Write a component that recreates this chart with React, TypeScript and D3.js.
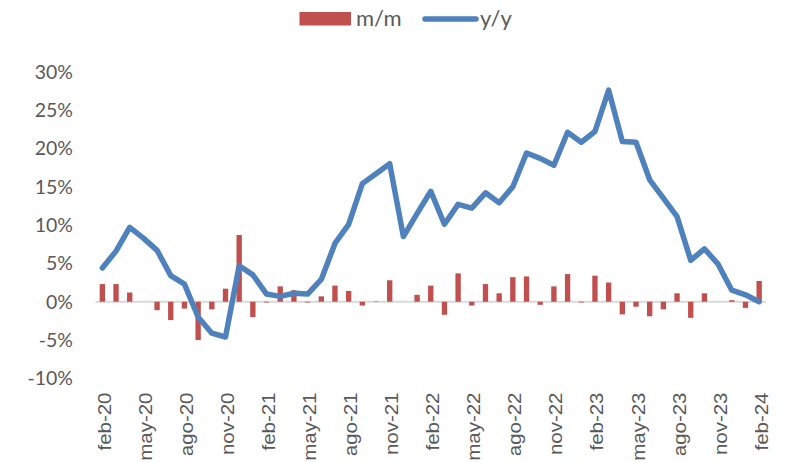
import React from 'react';
import * as d3 from 'd3';

const months = [
  'feb-20', 'mar-20', 'abr-20', 'may-20', 'jun-20', 'jul-20', 'ago-20', 'sep-20', 'oct-20', 'nov-20', 'dic-20', 'ene-21',
  'feb-21', 'mar-21', 'abr-21', 'may-21', 'jun-21', 'jul-21', 'ago-21', 'sep-21', 'oct-21', 'nov-21', 'dic-21', 'ene-22',
  'feb-22', 'mar-22', 'abr-22', 'may-22', 'jun-22', 'jul-22', 'ago-22', 'sep-22', 'oct-22', 'nov-22', 'dic-22', 'ene-23',
  'feb-23', 'mar-23', 'abr-23', 'may-23', 'jun-23', 'jul-23', 'ago-23', 'sep-23', 'oct-23', 'nov-23', 'dic-23', 'ene-24',
  'feb-24',
];

// m/m change, %
const mm = [
  2.3, 2.3, 1.2, 0.0, -1.1, -2.4, -0.9, -5.0, -1.0, 1.7, 8.7, -2.0,
  -0.1, 2.0, 1.5, -0.1, 0.7, 2.1, 1.4, -0.5, 0.05, 2.8, 0.0, 0.9,
  2.1, -1.7, 3.7, -0.5, 2.3, 1.1, 3.2, 3.3, -0.4, 2.0, 3.6, -0.1,
  3.4, 2.5, -1.65, -0.65, -1.9, -1.0, 1.1, -2.1, 1.1, 0.0, 0.2, -0.8,
  2.7,
];

// y/y change, %
const yy = [
  4.4, 6.6, 9.7, 8.3, 6.7, 3.4, 2.3, -2.0, -4.1, -4.6, 4.7, 3.5,
  1.0, 0.7, 1.1, 1.0, 2.9, 7.6, 10.1, 15.4, 16.7, 18.0, 8.5, 11.5,
  14.4, 10.1, 12.7, 12.2, 14.2, 12.9, 15.0, 19.4, 18.7, 17.8, 22.1, 20.8,
  22.2, 27.6, 20.9, 20.8, 15.9, 13.5, 11.1, 5.4, 6.9, 4.9, 1.5, 0.9,
  0.0,
];

const yTicks = [-10, -5, 0, 5, 10, 15, 20, 25, 30];

const W = 790;
const H = 462;
const textColor = '#595959';

export default function App() {
  const x = d3
    .scaleBand<string>()
    .domain(months)
    .range([95.5, 766])
    .paddingInner(0.61)
    .paddingOuter(0.305);
  const y = d3.scaleLinear().domain([-10, 30]).range([378.4, 71.7]);
  const cx = (m: string) => (x(m) as number) + x.bandwidth() / 2;

  const line = d3
    .line<number>()
    .x((_, i) => cx(months[i]))
    .y((d) => y(d));

  const labelMonths = months.filter((_, i) => i % 3 === 0);

  return (
    <svg
      width={W}
      height={H}
      style={{ position: 'absolute', left: 0, top: 0, background: '#fff' }}
    >
      {/* legend */}
      <g>
        <rect x={299.5} y={12} width={51.5} height={13.5} fill="#C0504D" />
        <text x={356} y={26} fontFamily="Lato" fontSize={22} fill={textColor}>
          m/m
        </text>
        <line x1={425} x2={476} y1={19} y2={19} stroke="#4F81BD" strokeWidth={5.5} strokeLinecap="round" />
        <text x={480} y={26} fontFamily="Lato" fontSize={22} fill={textColor}>
          y/y
        </text>
      </g>

      {/* y axis labels */}
      {yTicks.map((t) => (
        <text
          key={t}
          x={73}
          y={y(t)}
          dy="0.36em"
          textAnchor="end"
          fontFamily="Lato"
          fontSize={19.5}
          fill={textColor}
        >
          {t + '%'}
        </text>
      ))}

      {/* zero axis */}
      <line x1={95.5} x2={766} y1={y(0)} y2={y(0)} stroke="#D9D9D9" strokeWidth={2} />

      {/* m/m bars */}
      {mm.map((v, i) => (
        <rect
          key={months[i]}
          x={x(months[i])}
          y={Math.min(y(v), y(0))}
          width={x.bandwidth()}
          height={Math.abs(y(v) - y(0))}
          fill="#C0504D"
        />
      ))}

      {/* y/y line */}
      <path
        d={line(yy) || ''}
        fill="none"
        stroke="#4F81BD"
        strokeWidth={5.5}
        strokeLinejoin="round"
        strokeLinecap="round"
      />

      {/* x axis labels */}
      {labelMonths.map((m) => (
        <text
          key={m}
          transform={`translate(${cx(m) + 8.5},392.5) rotate(-90) scale(1.17,1)`}
          textAnchor="end"
          fontFamily="Liberation Sans"
          fontSize={17.5}
          fill={textColor}
        >
          {m}
        </text>
      ))}
    </svg>
  );
}
